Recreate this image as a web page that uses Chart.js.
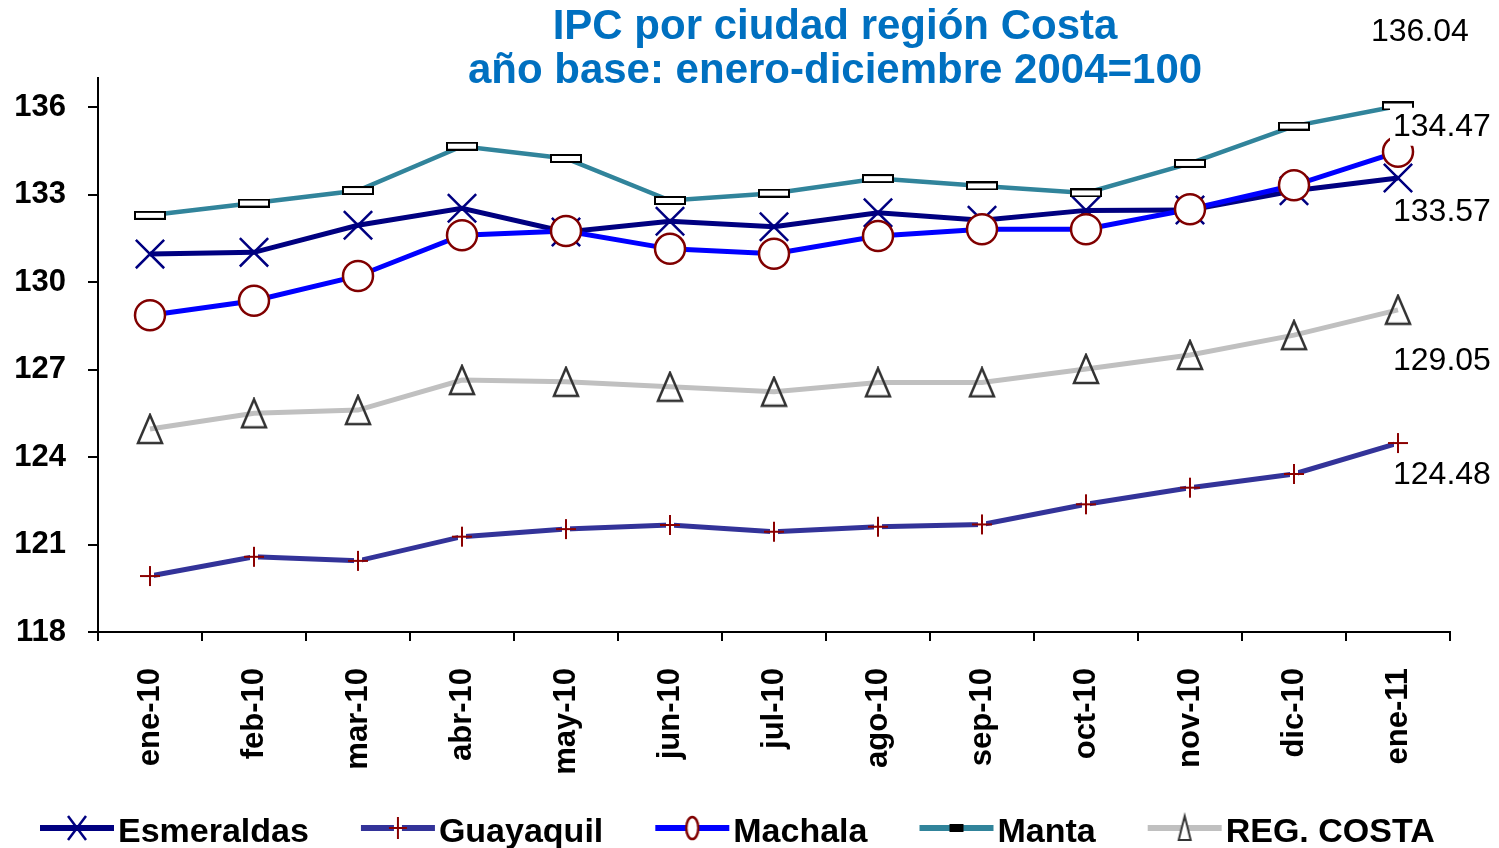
<!DOCTYPE html>
<html><head><meta charset="utf-8">
<script src="https://cdn.jsdelivr.net/npm/chart.js@4/dist/chart.umd.min.js"></script>
<style>html,body{margin:0;padding:0;background:#fff;} canvas{display:block;}</style>
</head><body>
<canvas id="c" width="1499" height="848"></canvas>
<script>
const categories = ['ene-10','feb-10','mar-10','abr-10','may-10','jun-10','jul-10','ago-10','sep-10','oct-10','nov-10','dic-10','ene-11'];
const yTickValues = [118,121,124,127,130,133,136];
const esmeraldas = [130.96,131.02,131.95,132.53,131.72,132.09,131.90,132.38,132.12,132.46,132.47,133.13,133.57];
const guayaquil  = [119.92,120.58,120.44,121.27,121.53,121.67,121.44,121.61,121.69,122.38,122.95,123.42,124.48];
const machala    = [128.86,129.36,130.21,131.61,131.75,131.14,130.97,131.58,131.81,131.81,132.50,133.32,134.47];
const manta      = [132.29,132.71,133.14,134.66,134.24,132.80,133.05,133.55,133.30,133.06,134.07,135.35,136.04];
const regCosta   = [124.96,125.50,125.61,126.64,126.58,126.41,126.24,126.56,126.56,127.02,127.50,128.18,129.05];
const seriesNames = ['Esmeraldas','Guayaquil','Machala','Manta','REG. COSTA'];
const titleLines = ['IPC por ciudad región Costa', 'año base: enero-diciembre 2004=100'];

const FONT = '"Liberation Sans", Arial, Helvetica, sans-serif';

function makeCanvas(w, h, draw) {
  const c = document.createElement('canvas');
  c.width = w; c.height = h;
  draw(c.getContext('2d'), w, h);
  return c;
}
const mantaMarker = makeCanvas(32, 9, g => {
  g.fillStyle = '#fff'; g.fillRect(1, 1, 30, 7);
  g.strokeStyle = '#000'; g.lineWidth = 2; g.strokeRect(1, 1, 30, 7);
});
const triMarker = makeCanvas(28, 32, g => {
  g.strokeStyle = '#333'; g.lineWidth = 2.5; g.lineJoin = 'miter';
  g.beginPath(); g.moveTo(14, 2); g.lineTo(26, 30); g.lineTo(2, 30); g.closePath(); g.stroke();
});
const plusMarker = makeCanvas(24, 24, g => {
  g.fillStyle = '#fff'; g.fillRect(8, 8, 8, 8);
  g.strokeStyle = '#8B0000'; g.lineWidth = 2; g.beginPath();
  g.moveTo(2, 12); g.lineTo(22, 12); g.moveTo(12, 2); g.lineTo(12, 22); g.stroke();
});

// legend symbols (line + marker)
function legendSymbol(lineColor, drawMarker) {
  return makeCanvas(78, 40, (g, w, h) => {
    g.strokeStyle = lineColor; g.lineWidth = 6; g.lineCap = 'butt';
    g.beginPath(); g.moveTo(2, h / 2); g.lineTo(w - 2, h / 2); g.stroke();
    drawMarker(g, w / 2, h / 2);
  });
}
const legendSymbols = [
  legendSymbol('#000080', (g, x, y) => {
    g.strokeStyle = '#000080'; g.lineWidth = 2.5; g.beginPath();
    g.moveTo(x - 9, y - 12); g.lineTo(x + 9, y + 12); g.moveTo(x + 9, y - 12); g.lineTo(x - 9, y + 12); g.stroke();
  }),
  legendSymbol('#333399', (g, x, y) => {
    g.fillStyle = '#fff'; g.fillRect(x - 4, y - 4, 8, 8);
    g.strokeStyle = '#8B0000'; g.lineWidth = 2; g.beginPath();
    g.moveTo(x - 9, y); g.lineTo(x + 9, y); g.moveTo(x, y - 11); g.lineTo(x, y + 11); g.stroke();
  }),
  legendSymbol('#0000FF', (g, x, y) => {
    g.fillStyle = '#fff'; g.strokeStyle = '#800000'; g.lineWidth = 2.5;
    g.beginPath(); g.ellipse(x, y, 6, 11, 0, 0, Math.PI * 2); g.fill(); g.stroke();
  }),
  legendSymbol('#31849B', (g, x, y) => {
    g.fillStyle = '#000'; g.fillRect(x - 7, y - 4, 14, 8);
  }),
  legendSymbol('#C0C0C0', (g, x, y) => {
    g.fillStyle = '#fff'; g.strokeStyle = '#333'; g.lineWidth = 2;
    g.beginPath(); g.moveTo(x, y - 12); g.lineTo(x + 6, y + 12); g.lineTo(x - 6, y + 12); g.closePath(); g.fill(); g.stroke();
  })
];

// label placement for last values: [dx to text left, dy to text middle]
const lastLabelOffsets = [[-5, 34], [-5, 32], [-5, -25], [-27, -74], [-5, 51]];

const decor = {
  id: 'decor',
  afterDatasetsDraw(chart) {
    const ctx = chart.ctx;
    ctx.save();
    ctx.font = 'normal 32px ' + FONT;
    ctx.textBaseline = 'middle';
    ctx.textAlign = 'left';
    chart.data.datasets.forEach((ds, i) => {
      const meta = chart.getDatasetMeta(i);
      const last = meta.data[meta.data.length - 1];
      const txt = ds.data[ds.data.length - 1].toFixed(2);
      const x = last.x + lastLabelOffsets[i][0];
      const y = last.y + lastLabelOffsets[i][1];
      const w = ctx.measureText(txt).width;
      ctx.fillStyle = '#fff';
      ctx.fillRect(x - 3, y - 19, w + 6, 38);
      ctx.fillStyle = '#000';
      ctx.fillText(txt, x, y);
    });
    ctx.restore();
  },
  afterDraw(chart) {
    const ctx = chart.ctx;
    ctx.save();
    // title
    ctx.font = 'bold 42px ' + FONT;
    ctx.fillStyle = '#0070C0';
    ctx.textAlign = 'center';
    ctx.textBaseline = 'alphabetic';
    ctx.fillText(titleLines[0], 835, 39);
    ctx.fillText(titleLines[1], 835, 83);
    // legend
    ctx.font = 'bold 34px ' + FONT;
    ctx.fillStyle = '#000';
    ctx.textAlign = 'left';
    let x = 38;
    chart.data.datasets.forEach((ds, i) => {
      const sym = legendSymbols[i];
      ctx.drawImage(sym, x, 828 - sym.height / 2);
      const tx = x + sym.width + 2;
      ctx.fillText(ds.label, tx, 842);
      x = tx + ctx.measureText(ds.label).width + 50;
    });
    ctx.restore();
  }
};

new Chart(document.getElementById('c'), {
  type: 'line',
  data: {
    labels: categories,
    datasets: [
      { label: seriesNames[0], data: esmeraldas, borderColor: '#000080', borderWidth: 5,
        pointStyle: 'crossRot', pointRadius: 20, pointBorderColor: '#000080', pointBorderWidth: 2.5,
        pointBackgroundColor: 'rgba(0,0,0,0)', order: 5 },
      { label: seriesNames[1], data: guayaquil, borderColor: '#333399', borderWidth: 5,
        pointStyle: plusMarker, pointRadius: 10, order: 4 },
      { label: seriesNames[2], data: machala, borderColor: '#0000FF', borderWidth: 5,
        pointStyle: 'circle', pointRadius: 15, pointBorderColor: '#800000', pointBorderWidth: 2.5,
        pointBackgroundColor: '#fff', order: 3 },
      { label: seriesNames[3], data: manta, borderColor: '#31849B', borderWidth: 4.5,
        pointStyle: mantaMarker, pointRadius: 10, order: 2 },
      { label: seriesNames[4], data: regCosta, borderColor: '#C0C0C0', borderWidth: 5,
        pointStyle: triMarker, pointRadius: 14, order: 1 }
    ]
  },
  options: {
    responsive: false,
    animation: false,
    layout: { padding: { top: 78, right: 49, left: 0, bottom: 0 } },
    elements: { line: { tension: 0 } },
    plugins: { legend: { display: false }, title: { display: false }, tooltip: { enabled: false } },
    scales: {
      x: {
        offset: true,
        grid: { offset: true, drawOnChartArea: false, color: '#000', lineWidth: 2, tickLength: 9 },
        border: { color: '#000', width: 2 },
        ticks: { autoSkip: false, minRotation: 90, maxRotation: 90, padding: 27, color: '#000',
                 font: { family: FONT, size: 31, weight: 'bold' } },
        afterFit: s => { s.height = 216; }
      },
      y: {
        min: 118, max: 137,
        afterBuildTicks: s => { s.ticks = yTickValues.map(v => ({ value: v })); },
        grid: { drawOnChartArea: false, color: '#000', lineWidth: 2, tickLength: 10 },
        border: { color: '#000', width: 2 },
        ticks: { padding: 22, color: '#000', font: { family: FONT, size: 31, weight: 'bold' } },
        afterFit: s => { s.width = 98; }
      }
    }
  },
  plugins: [decor]
});
</script>
</body></html>
